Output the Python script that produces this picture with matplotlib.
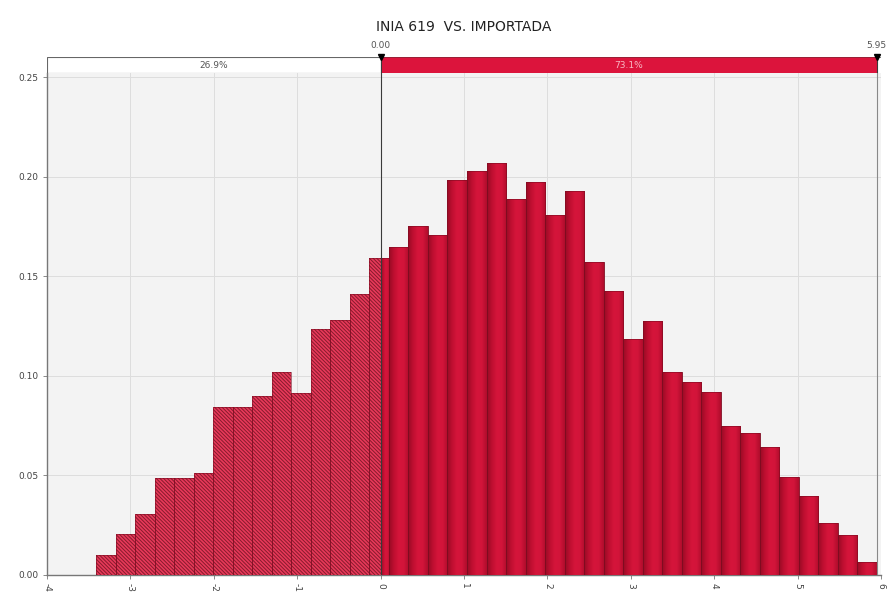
import numpy as np
import matplotlib
matplotlib.use('Agg')
import matplotlib.pyplot as plt
from matplotlib.colors import LinearSegmentedColormap

# histogram heights (density) for the 40 bins between bin_lo and bin_hi
heights = [0.0101, 0.0206, 0.0305, 0.0489, 0.0489, 0.0514, 0.0846, 0.0846,
           0.0899, 0.1020, 0.0916, 0.1236, 0.1281, 0.1411, 0.1592, 0.1650,
           0.1754, 0.1710, 0.1985, 0.2032, 0.2072, 0.1891, 0.1973, 0.1808,
           0.1930, 0.1574, 0.1429, 0.1184, 0.1276, 0.1022, 0.0972, 0.0921,
           0.0750, 0.0712, 0.0645, 0.0494, 0.0397, 0.0263, 0.0201, 0.0064]
bin_lo = -3.41
bin_hi = 5.95
cut = 0.00          # left delimiter
right_cut = 5.95    # right delimiter
pct_left = '26.9%'
pct_right = '73.1%'
titulo = 'INIA 619  VS. IMPORTADA'

xticks = [-4, -3, -2, -1, 0, 1, 2, 3, 4, 5, 6]
yticks = [0.00, 0.05, 0.10, 0.15, 0.20, 0.25]

plt.rcParams['font.family'] = 'DejaVu Sans'
plt.rcParams['hatch.linewidth'] = 0.7
plt.rcParams['hatch.color'] = '#861a2c'

rojo = '#d3123a'
rayado = '#e8395a'
borde = '#7a0c20'
grad = LinearSegmentedColormap.from_list('barra', ['#980b24', '#bf0f31', '#d5153b', '#d2143a', '#b00d2c'])

fig = plt.figure(figsize=(8.88, 6.01), dpi=100)
ax = fig.add_axes([47/888, 1 - 575/601, (881 - 47)/888, (575 - 72.7)/601])
ax.set_facecolor('#f3f3f3')

edges = np.linspace(bin_lo, bin_hi, len(heights) + 1)
gradient = np.linspace(0, 1, 64).reshape(1, -1)
for i, h in enumerate(heights):
    x0, x1 = edges[i], edges[i + 1]
    # parte rayada (izquierda del corte)
    if x0 < cut:
        xa, xb = x0, min(x1, cut)
        ax.bar(xa, h, width=xb - xa, align='edge', color=rayado,
               edgecolor='#861a2c', hatch='\\' * 9, linewidth=0.0, zorder=3)
        ax.bar(xa, h, width=xb - xa, align='edge', fill=False,
               edgecolor=borde, linewidth=0.4, zorder=4)
    # parte solida con degradado
    if x1 > cut:
        xa, xb = max(x0, cut), x1
        b = ax.bar(xa, h, width=xb - xa, align='edge', color=rojo,
                   edgecolor=borde, linewidth=0.4, zorder=3)[0]
        im = ax.imshow(gradient, cmap=grad, aspect='auto',
                       extent=(xa, xb, 0, h), zorder=3.5, interpolation='bilinear')
        im.set_clip_path(b)
        ax.bar(xa, h, width=xb - xa, align='edge', fill=False,
               edgecolor=borde, linewidth=0.4, zorder=4)

ax.axvline(cut, color='#3a3a3a', lw=0.8, zorder=5)
ax.axvline(right_cut, color='#888888', lw=0.8, zorder=5)

ax.set_xlim(-4, 6)
ax.set_ylim(0, 0.2524)
ax.set_xticks(xticks)
ax.set_xticklabels([str(t) for t in xticks], rotation=-90, fontsize=6.5, color='#444444')
ax.set_yticks(yticks)
ax.set_yticklabels(['%.2f' % t for t in yticks], fontsize=6.5, color='#444444')
ax.tick_params(axis='both', length=3, width=0.6, color='#777777', pad=3)
ax.grid(True, color='#dddddd', lw=0.7, zorder=0)
ax.set_axisbelow(True)
for s in ['top', 'right']:
    ax.spines[s].set_visible(False)
for s in ['left', 'bottom']:
    ax.spines[s].set_color('#777777')
    ax.spines[s].set_linewidth(1.0)

# barra superior con los porcentajes
top = fig.add_axes([47/888, 1 - 72.7/601, (881 - 47)/888, 15.7/601])
top.set_xlim(-4, 6)
top.set_ylim(0, 1)
top.axis('off')
top.barh(0.5, cut - (-4), left=-4, height=1, color='white', edgecolor='#666666', lw=0.8)
top.barh(0.5, right_cut - cut, left=cut, height=1, color='#dc143c', edgecolor='#8a0c22', lw=0.6)
top.barh(0.5, 6 - right_cut, left=right_cut, height=1, color='white', edgecolor='#666666', lw=0.6)
top.text((-4 + cut) / 2, 0.45, pct_left, ha='center', va='center', fontsize=6.5, color='#555555')
top.text((cut + right_cut) / 2, 0.45, pct_right, ha='center', va='center', fontsize=6.5, color='#f7b8c4')
top.plot([cut, cut], [0, 1], color='#3a3a3a', lw=0.8)
top.plot([right_cut, right_cut], [0, 1], color='#3a3a3a', lw=0.8)
top.plot([cut, right_cut], [1.0, 1.0], 'v', color='black', ms=5, clip_on=False)
top.text(cut, 1.45, '%.2f' % cut, ha='center', va='bottom', fontsize=6.5, color='#555555')
top.text(right_cut, 1.45, '%.2f' % right_cut, ha='center', va='bottom', fontsize=6.5, color='#555555')

fig.text(464/888, 1 - 27/601, titulo, ha='center', va='center', fontsize=10, color='#222222')

fig.savefig('out.png', dpi=100)
